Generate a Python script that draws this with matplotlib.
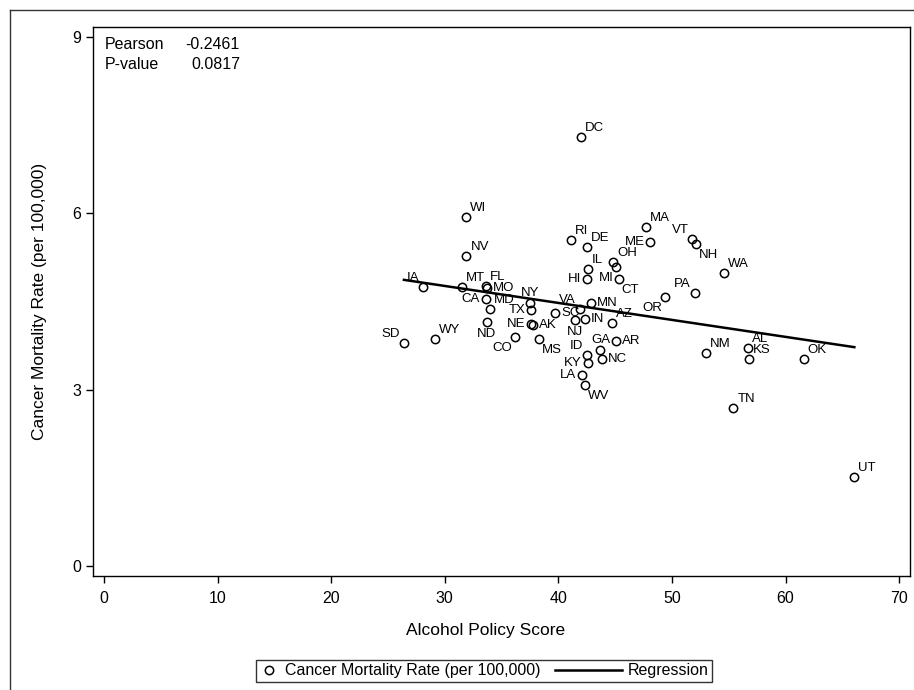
import numpy as np
import matplotlib
matplotlib.use("Agg")
import matplotlib.pyplot as plt
from matplotlib.lines import Line2D

# values
states = ["IA", "MT", "FL", "MO", "CA", "MD", "ND", "NY", "TX", "NE", "AK", "CO", "MS",
          "SD", "WY", "WI", "NV", "SC", "VA", "NJ", "IN", "MN", "AZ", "AR", "GA", "NC",
          "ID", "KY", "LA", "WV", "RI", "DE", "IL", "HI", "OH", "MI", "CT", "ME", "MA",
          "VT", "NH", "WA", "PA", "OR", "DC", "NM", "AL", "KS", "OK", "TN", "UT"]
policy_score = [28.1, 31.5, 33.6, 33.7, 33.6, 34.0, 33.7, 37.5, 37.6, 37.6, 37.8, 36.2, 38.3,
                26.4, 29.1, 31.9, 31.9, 39.7, 41.9, 41.5, 42.3, 42.9, 44.7, 45.1, 43.7, 43.8,
                42.5, 42.6, 42.05, 42.3, 41.1, 42.5, 42.6, 42.5, 44.8, 45.1, 45.3, 48.1, 47.7,
                51.8, 52.1, 54.6, 52.0, 49.4, 42.0, 53.0, 56.7, 56.8, 61.6, 55.4, 66.05]
cancer_rate = [4.75, 4.74, 4.76, 4.73, 4.55, 4.37, 4.15, 4.47, 4.35, 4.11, 4.10, 3.89, 3.87,
               3.79, 3.86, 5.94, 5.27, 4.30, 4.38, 4.18, 4.20, 4.48, 4.13, 3.83, 3.67, 3.53,
               3.59, 3.46, 3.25, 3.08, 5.54, 5.42, 5.06, 4.88, 5.18, 5.08, 4.88, 5.52, 5.76,
               5.57, 5.48, 4.99, 4.64, 4.58, 7.30, 3.63, 3.71, 3.52, 3.53, 2.68, 1.52]

pearson_r = -0.2461
p_value = 0.0817

x_ticks = [0, 10, 20, 30, 40, 50, 60, 70]
y_ticks = [0, 3, 6, 9]

# where each state label sits relative to its marker
label_side = {
    "ur": ["MT", "FL", "MD", "WY", "WI", "NV", "AZ", "RI", "DE", "IL", "OH", "MA", "WA",
           "NM", "AL", "KS", "OK", "TN", "UT", "DC"],
    "ul": ["IA", "SD", "VA", "ID", "VT", "PA"],
    "r": ["MO", "AK", "SC", "IN", "MN", "AR", "NC"],
    "l": ["CA", "TX", "NE", "KY", "LA", "HI", "ME"],
    "a": ["NY", "GA"],
    "b": ["ND", "NJ"],
    "ll": ["CO", "MI", "OR"],
    "lr": ["MS", "WV", "CT", "NH"],
}
side_style = {
    "ur": ((4, 6), "left", "baseline"),
    "ul": ((-4, 6), "right", "baseline"),
    "r": ((6, 0), "left", "center"),
    "l": ((-6, 0), "right", "center"),
    "a": ((0, 7), "center", "baseline"),
    "b": ((0, -6), "center", "top"),
    "ll": ((-3, -5), "right", "top"),
    "lr": ((3, -5), "left", "top"),
}


class LongLineHandler:
    # regression handle drawn longer than the legend handle box
    def legend_artist(self, legend, orig_handle, fontsize, handlebox):
        w, h = handlebox.width, handlebox.height
        x0 = -handlebox.xdescent
        y0 = -handlebox.ydescent
        ln = Line2D([x0 + w - 4.2 * fontsize, x0 + w], [y0 + h / 2, y0 + h / 2],
                    color="black", lw=1.8)
        handlebox.add_artist(ln)
        return ln


def main():
    plt.rcParams["font.family"] = ["Liberation Sans", "DejaVu Sans"]

    fig = plt.figure(figsize=(9.14, 6.90), dpi=100)
    ax = fig.add_axes([93 / 914, 1 - 576 / 690, (910 - 93) / 914, (576 - 27) / 690])

    x = np.array(policy_score)
    y = np.array(cancer_rate)

    pts, = ax.plot(x, y, linestyle="none", marker="o", markersize=6, markerfacecolor="none",
                   markeredgecolor="black", markeredgewidth=1.1, label="Cancer Mortality Rate (per 100,000)")

    slope, intercept = np.polyfit(x, y, 1)
    xs = np.array([x.min(), x.max()])
    reg, = ax.plot(xs, intercept + slope * xs, color="black", lw=1.8, label="Regression")

    for side, names in label_side.items():
        offset, ha, va = side_style[side]
        for name in names:
            i = states.index(name)
            ax.annotate(name, (x[i], y[i]), xytext=offset, textcoords="offset pixels",
                        ha=ha, va=va, fontsize=9.5)

    ax.set_xlim(-0.97, 70.95)
    ax.set_ylim(-0.17, 9.17)
    ax.set_xticks(x_ticks)
    ax.set_yticks(y_ticks)
    ax.tick_params(axis="both", direction="out", length=5, width=1, labelsize=11.5, color="black")
    ax.tick_params(axis="x", pad=5.5)
    ax.tick_params(axis="y", pad=3.5)
    for sp in ax.spines.values():
        sp.set_linewidth(1)
        sp.set_color("black")

    ax.set_xlabel("Alcohol Policy Score", fontsize=12.5)
    ax.xaxis.set_label_coords((486 - 93) / 817, (576 - 623) / 549)
    ax.set_ylabel("Cancer Mortality Rate (per 100,000)", fontsize=12.5)
    ax.yaxis.set_label_coords((47 - 93) / 817, 0.5)

    ax.text(0.0147, 0.969, "Pearson", transform=ax.transAxes, ha="left", va="center", fontsize=11.5)
    ax.text(0.1799, 0.969, "%.4f" % pearson_r, transform=ax.transAxes, ha="right", va="center", fontsize=11.5)
    ax.text(0.0147, 0.931, "P-value", transform=ax.transAxes, ha="left", va="center", fontsize=11.5)
    ax.text(0.1799, 0.931, "%.4f" % p_value, transform=ax.transAxes, ha="right", va="center", fontsize=11.5)

    leg = fig.legend(handles=[pts, reg], loc="center", bbox_to_anchor=(484 / 914, 1 - 671 / 690),
                     ncol=2, fontsize=11.5, frameon=True, fancybox=False, borderpad=0.2,
                     handlelength=1.3, handletextpad=0.35, columnspacing=3.8,
                     handler_map={reg: LongLineHandler()})
    leg.get_frame().set_edgecolor("black")
    leg.get_frame().set_linewidth(1)

    # outer graph border (cropped on the right and bottom)
    fig.add_artist(Line2D([10 / 914, 10 / 914], [0, 1 - 10 / 690], color="#333333", lw=1,
                          transform=fig.transFigure))
    fig.add_artist(Line2D([10 / 914, 1], [1 - 10 / 690, 1 - 10 / 690], color="#333333", lw=1,
                          transform=fig.transFigure))

    fig.savefig("out.png", dpi=100)


if __name__ == "__main__":
    main()
